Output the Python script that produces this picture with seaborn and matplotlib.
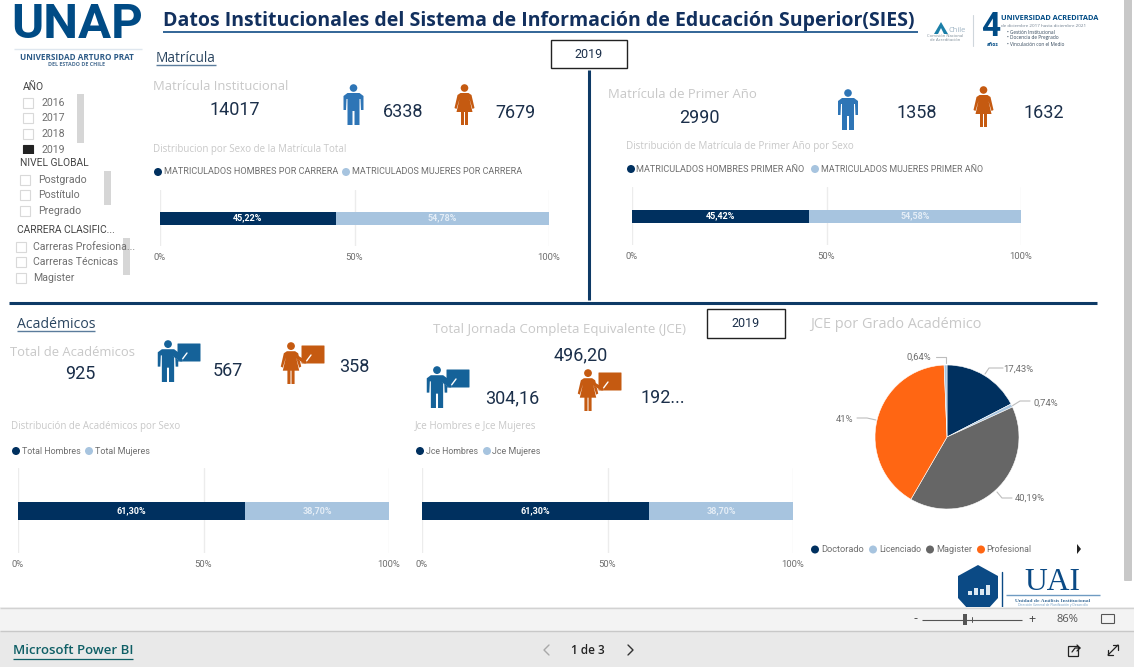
import matplotlib
matplotlib.use("Agg")
import matplotlib.pyplot as plt
import seaborn as sns
from matplotlib.patches import Circle, FancyBboxPatch, Polygon, Rectangle

DARK = "#00305f"
LIGHT = "#a7c4df"
GREY = "#666666"
ORANGE = "#ff6613"
MAN = "#2e75b6"
WOMAN = "#c55a11"
TEACHER = "#156299"
NAVY = "#0e3a66"
SOFT = "#c8c8c8"
MID = "#6f6f6f"
NUM = "#1b2f4a"

# data
matricula_total = [45.22, 54.78]
matricula_primer = [45.42, 54.58]
academicos_sexo = [61.30, 38.70]
jce_sexo = [61.30, 38.70]
bar_ticks = [0, 50, 100]
bar_tick_labels = ["0%", "50%", "100%"]

grados = ["Doctorado", "Licenciado", "Magister", "Profesional", "Otro"]
grados_jce = [17.43, 0.74, 40.19, 41.0, 0.64]
grados_labels = ["17,43%", "0,74%", "40,19%", "41%", "0,64%"]

anios = ["2016", "2017", "2018", "2019"]
niveles = ["Postgrado", "Postítulo", "Pregrado"]
carreras = ["Carreras Profesiona...", "Carreras Técnicas", "Magister"]

sns.set_theme(style="white")
plt.rcParams["font.family"] = ["Open Sans", "DejaVu Sans"]
DIN = "Roboto"

fig = plt.figure(figsize=(11.34, 6.67), dpi=100, facecolor="white")

# whole page in pixels, everything that is not a chart goes here
page = fig.add_axes([0, 0, 1, 1], zorder=0)
page.set_xlim(0, 1134)
page.set_ylim(667, 0)
page.axis("off")


def put(x, y, s, size=8, color=MID, w=None, ha="left", va="center", **kw):
    t = page.text(x, y, s, fontsize=size, color=color, ha=ha, va=va, **kw)
    if w is not None:
        width = t.get_window_extent(fig.canvas.get_renderer()).width
        t.set_fontsize(size * w / width)
    return t


def num(x, y, s, size=13):
    return put(x, y, s, size=size, color=NUM, ha="center", family=DIN)


def hline(x0, x1, y, color, lw=1, z=2):
    page.plot([x0, x1], [y, y], color=color, lw=lw, zorder=z, solid_capstyle="butt")


def rect(x0, y0, x1, y1, color, z=1, **kw):
    page.add_patch(Rectangle((x0, y0), x1 - x0, y1 - y0, facecolor=color, edgecolor="none", zorder=z, **kw))


def shape(points, cx, top, s, color, z=3):
    page.add_patch(Polygon([(cx + a * s, top + b * s) for a, b in points], closed=True,
                           facecolor=color, edgecolor="none", zorder=z))


MAN_BODY = [(-6, 9), (6, 9), (10, 12), (10, 26), (7.5, 26), (7, 15), (6, 15), (6, 41), (1, 41), (1, 27),
            (-1, 27), (-1, 41), (-6, 41), (-6, 15), (-7, 15), (-7.5, 26), (-10, 26), (-10, 12)]
WOMAN_BODY = [(-4, 9), (4, 9), (7, 11), (10, 24), (8, 25), (5, 15), (8, 28), (3.5, 28), (3.5, 41), (0.5, 41),
              (0.5, 28), (-0.5, 28), (-0.5, 41), (-3.5, 41), (-3.5, 28), (-8, 28), (-5, 15), (-8, 25),
              (-10, 24), (-7, 11)]


def person(cx, top, h, color, body):
    s = h / 41
    page.add_patch(Circle((cx, top + 4 * s), 3.8 * s, facecolor=color, edgecolor="none", zorder=3))
    shape(body, cx, top, s, color)


def teacher(x0, top, color, body, bx):
    person(x0 + 10, top, 42, color, body)
    page.add_patch(FancyBboxPatch((x0 + bx, top + 4), 22, 17, boxstyle="round,pad=0.5", facecolor=color,
                                  edgecolor="none", zorder=3))
    page.plot([x0 + 16, x0 + bx + 3, x0 + bx + 9], [top + 16, top + 21, top + 13], color="white", lw=1, zorder=4)
    page.plot([x0 + 16, x0 + bx + 3], [top + 15, top + 20], color=color, lw=2.5, zorder=4)


def slicer(x_title, y_title, title, box_x, text_x, items, ys, bar, checked=None):
    put(x_title, y_title, title, size=7.4, color="#444444", family=DIN)
    for item, y in zip(items, ys):
        on = item == checked
        page.add_patch(Rectangle((box_x, y - 5), 10, 10, facecolor="#222222" if on else "white",
                                 edgecolor="#222222" if on else "#d9d9d9", lw=0.8, zorder=2))
        put(text_x, y, item, size=7.6, color=MID, family=DIN)
    rect(bar[0], bar[1], bar[2], bar[3], "#d6d6d6")


def legend(y, entries, size=6.5):
    for dot_x, text_x, w, label, color in entries:
        page.add_patch(Circle((dot_x, y), 4, facecolor=color, edgecolor="none", zorder=3))
        put(text_x, y, label, size=size, color=MID, w=w, family=DIN)


def stacked_bar(x0, x1, y0, y1, bar_px, values):
    ax = fig.add_axes([x0 / 1134, 1 - y1 / 667, (x1 - x0) / 1134, (y1 - y0) / 667], zorder=2)
    ax.patch.set_alpha(0)
    width = bar_px / (y1 - y0)
    sns.barplot(x=[sum(values)], y=[""], color=LIGHT, saturation=1, width=width, linewidth=0, ax=ax)
    sns.barplot(x=[values[0]], y=[""], color=DARK, saturation=1, width=width, linewidth=0, ax=ax)
    ax.set_xlim(0, 100)
    ax.set_xticks(bar_ticks)
    ax.set_xticklabels(bar_tick_labels, color=MID, fontsize=6.8, family=DIN)
    ax.set_yticks([])
    ax.set_xlabel("")
    ax.set_ylabel("")
    ax.grid(axis="x", color="#ececec", lw=1)
    ax.set_axisbelow(True)
    ax.tick_params(axis="x", length=0, pad=5)
    sns.despine(ax=ax, left=True, bottom=True)
    ax.text(values[0] / 2, 0, f"{values[0]:.2f}%".replace(".", ","), color="white", fontsize=6.5,
            fontweight="bold", ha="center", va="center", family=DIN)
    ax.text(values[0] + values[1] / 2, 0, f"{values[1]:.2f}%".replace(".", ","), color="#e4edf6", fontsize=6.5,
            fontweight="bold", ha="center", va="center", family=DIN)
    return ax


# logo and title
put(77.5, 25, "UNAP", size=38, color="#004b85", ha="center", family=DIN, fontweight="bold", w=132)
hline(14, 142, 49, "#dfe7ef")
put(77, 57, "UNIVERSIDAD ARTURO PRAT", size=6, color="#2b5a86", ha="center", fontweight="bold", w=114)
put(77, 65, "DEL ESTADO DE CHILE", size=4, color="#4a6f93", ha="center", fontweight="bold", w=57)

put(163, 21, "Datos Institucionales del Sistema de Información de Educación Superior(SIES)", size=14,
    color="#12305e", fontweight="bold", w=755)
hline(163, 918, 31.5, "#0f4b85", 1.2)

# accreditation block
put(957, 30, "Chile", size=5.5, color="#9fb4c4", ha="center")
shape([(-7, 6), (0, -6), (7, 6), (3, 6), (0, 0), (-3, 6)], 941, 28, 1, "#1b7fa8")
put(945, 36, "Comisión Nacional", size=3, color="#7a8a96", ha="center")
put(945, 40, "de Acreditación", size=3, color="#7a8a96", ha="center")
page.plot([973, 973], [15, 46], color="#cfd6dc", lw=0.8)
put(991, 27, "4", size=24, color="#004b85", ha="center", family=DIN, fontweight="bold")
put(993, 44, "años", size=3.5, color="#004b85", ha="center", fontweight="bold")
put(1001, 19, "UNIVERSIDAD ACREDITADA", size=6, color="#004b85", fontweight="bold", w=98)
put(1001, 26, "de diciembre 2017 hasta diciembre 2021", size=3, color="#6f7f8f", w=85)
for y, s in zip([33, 38, 44], ["• Gestión Institucional", "• Docencia de Pregrado", "• Vinculación con el Medio"]):
    put(1007, y, s, size=3.4, color="#33475b")

# dividers
page.plot([589, 589], [70, 300], color=NAVY, lw=2.2, solid_capstyle="butt")
hline(9, 1097, 302.5, NAVY, 2.2)


def year_box(x0, y0, x1, y1):
    page.add_patch(Rectangle((x0, y0), x1 - x0, y1 - y0, facecolor="white", edgecolor="#222222", lw=1, zorder=3))
    put((x0 + x1) / 2, (y0 + y1) / 2, anios[-1], size=9, color=NUM, ha="center", zorder=4, family=DIN)


year_box(550.5, 40, 627, 68)
year_box(707, 309, 785, 338)

# slicers
slicer(23, 87, "AÑO", 23, 41, anios, [103, 118, 134, 150], (77, 94, 84, 143), checked="2019")
rect(20, 153.5, 100, 158, "white", z=5)
slicer(20, 163, "NIVEL GLOBAL", 20, 38, niveles, [180, 195, 211], (104, 171, 111, 205))
slicer(17, 230, "CARRERA CLASIFIC...", 16, 33, carreras, [247, 262, 278], (123, 238, 130, 275))

# matricula
put(156, 58, "Matrícula", size=10, color="#2a4560", w=60)
hline(156, 216, 65, "#5b7c9c", 1)
put(153, 86, "Matrícula Institucional", size=10, color=SOFT, w=135)
num(235, 110, "14017")
person(353.5, 84, 41, MAN, MAN_BODY)
num(403, 112, "6338")
person(464.5, 84, 41, WOMAN, WOMAN_BODY)
num(516, 113, "7679")
put(153, 149.5, "Distribucion por Sexo de la Matrícula Total", size=7, color=SOFT, w=194)
legend(172, [(158, 164, 174, "MATRICULADOS HOMBRES POR CARRERA", DARK),
             (346, 352, 169, "MATRICULADOS MUJERES POR CARRERA", LIGHT)])
stacked_bar(160, 549, 190, 246, 13, matricula_total)

put(608, 94, "Matrícula de Primer Año", size=10, color=SOFT, w=149)
num(699, 118, "2990")
person(848, 89, 41, MAN, MAN_BODY)
num(917, 113, "1358")
person(983.5, 86, 41, WOMAN, WOMAN_BODY)
num(1044, 113, "1632")
put(626, 146.5, "Distribución de Matrícula de Primer Año por Sexo", size=7, color=SOFT, w=229)
legend(169, [(631, 636, 169, "MATRICULADOS HOMBRES PRIMER AÑO", DARK),
             (815, 821, 162, "MATRICULADOS MUJERES PRIMER AÑO", LIGHT)])
stacked_bar(632, 1021, 187, 245, 13, matricula_primer)

# academicos
put(17, 324, "Académicos", size=10, color="#2a4560", w=78)
hline(17, 95, 331, "#5b7c9c", 1)
put(10, 352, "Total de Académicos", size=10, color=SOFT, w=125)
num(80, 374, "925")
teacher(158, 340, TEACHER, MAN_BODY, 20)
num(228, 371, "567")
teacher(281, 342, WOMAN, WOMAN_BODY, 21)
num(354, 367, "358")

put(433, 330, "Total Jornada Completa Equivalente (JCE)", size=10, color=SOFT, w=250)
num(581, 355, "496,20")
teacher(427, 366, TEACHER, MAN_BODY, 20)
num(512, 398, "304,16")
teacher(578, 369, WOMAN, WOMAN_BODY, 21)
num(663, 398, "192...")

put(11, 427, "Distribución de Académicos por Sexo", size=7, color=SOFT, w=171)
legend(451, [(16, 22, 59, "Total Hombres", DARK), (89, 95, 55, "Total Mujeres", LIGHT)])
stacked_bar(18, 389, 468, 553, 18, academicos_sexo)

put(415, 427, "Jce Hombres e Jce Mujeres", size=7, color=SOFT, w=123)
legend(451, [(420, 426, 52, "Jce Hombres", DARK), (487, 492, 48, "Jce Mujeres", LIGHT)])
stacked_bar(422, 793, 468, 553, 18, jce_sexo)

# pie
put(810, 324, "JCE por Grado Académico", size=10, color=SOFT, w=172)
pie_colors = [DARK, LIGHT, GREY, ORANGE, LIGHT]
pie_ax = fig.add_axes([(947 - 72) / 1134, 1 - (437 + 72) / 667, 144 / 1134, 144 / 667], zorder=2)
pie_ax.pie(grados_jce, colors=pie_colors, startangle=90, counterclock=False, radius=1,
           wedgeprops={"edgecolor": "white", "linewidth": 0.4})
pie_ax.set_xlim(-1, 1)
pie_ax.set_ylim(-1, 1)

leaders = [((1003, 368), (989, 368), (985, 374)), ((1030, 401), (1020, 401), (1012, 406)),
           ((1012, 498), (1002, 498), (997, 492)), ((857, 418), (867, 418), (876, 420)),
           ((936, 357), (946, 357), (946, 363))]
label_spots = [(1018, 369), (1046, 403), (1030, 498), (845, 419), (919, 357)]
for label, spot, line in zip(grados_labels, label_spots, leaders):
    put(spot[0], spot[1], label, size=6.8, color=MID, ha="center", family=DIN)
    page.plot([p[0] for p in line], [p[1] for p in line], color="#bdbdbd", lw=0.8)

legend(549.5, [(815, 821, 43, grados[0], DARK), (873, 879, 42, grados[1], LIGHT),
               (930, 936, 36, grados[2], GREY), (981, 986, 45, grados[3], ORANGE)])
shape([(0, -5), (4, 0), (0, 5)], 1077, 549, 1, "#222222")

# UAI logo
shape([(0, -22), (20, -11), (20, 11), (10, 22), (-10, 22), (-20, 11), (-20, -11)], 978, 587, 1, "#0b4a85")
for bx, bh in zip([968, 974, 980, 986], [4, 7, 6, 10]):
    rect(bx, 595 - bh, bx + 4, 595, "#dce8f2", z=4)
page.plot([1002, 1002], [572, 607], color="#0b4a85", lw=1)
put(1052, 583, "UAI", size=21, color="#0b4a85", ha="center", family="Liberation Serif", w=56)
hline(1006, 1100, 595, "#6f9bc2", 1)
put(1053, 601, "Unidad de Análisis Institucional", size=4, color="#3f6f9b", ha="center",
    family="Liberation Serif", fontweight="bold", w=74)
put(1053, 605, "Dirección General de Planificación y Desarrollo", size=3, color="#6f9bc2", ha="center", w=70)

# scrollbar
page.add_patch(FancyBboxPatch((1125, 0), 6, 580, boxstyle="round,pad=1", facecolor="#c8c8c8",
                              edgecolor="none", zorder=1))

# report footer
rect(0, 607, 1134, 631, "#f3f3f3", z=6)
hline(0, 1134, 607.5, "#d2d2d2", 1, z=7)
rect(0, 631, 1134, 667, "#e9e9e9", z=6)
hline(0, 1134, 631, "#c8c8c8", 1, z=7)

put(915, 619, "-", size=9, color="#444444", ha="center", zorder=8)
hline(922, 1022, 619.5, "#555555", 0.8, z=8)
rect(963, 614, 967, 625, "#555555", z=9)
page.plot([972, 972], [617, 622], color="#555555", lw=0.7, zorder=8)
put(1032, 619, "+", size=9, color="#444444", ha="center", zorder=8)
put(1067, 619, "86%", size=8, color="#555555", ha="center", zorder=8)
page.add_patch(FancyBboxPatch((1102, 615), 12, 8, boxstyle="round,pad=0.5", facecolor="none",
                              edgecolor="#555555", lw=0.8, zorder=8))

put(13, 651, "Microsoft Power BI", size=9, color="#0f5f66", w=120, zorder=8, fontweight="semibold")
hline(13, 133, 658.5, "#0f5f66", 0.9, z=8)
put(588, 650, "1 de 3", size=8.5, color="#222222", ha="center", zorder=8, fontweight="semibold")
page.plot([549, 544, 549], [645, 650, 655], color="#a8a8a8", lw=1, zorder=8)
page.plot([628, 633, 628], [645, 650, 655], color="#333333", lw=1, zorder=8)

# share and expand icons
page.add_patch(FancyBboxPatch((1069, 647), 9, 9, boxstyle="round,pad=0.5", facecolor="none",
                              edgecolor="#222222", lw=0.9, zorder=8))
page.plot([1072, 1075, 1080], [652, 648, 648], color="#222222", lw=0.9, zorder=9)
page.plot([1077, 1080, 1077], [645, 648, 651], color="#222222", lw=0.9, zorder=9)
page.plot([1108, 1118], [655, 645], color="#222222", lw=0.9, zorder=8)
page.plot([1113, 1118, 1118], [645, 645, 650], color="#222222", lw=0.9, zorder=8)
page.plot([1108, 1108, 1113], [650, 655, 655], color="#222222", lw=0.9, zorder=8)

fig.savefig("out.png", dpi=100)
